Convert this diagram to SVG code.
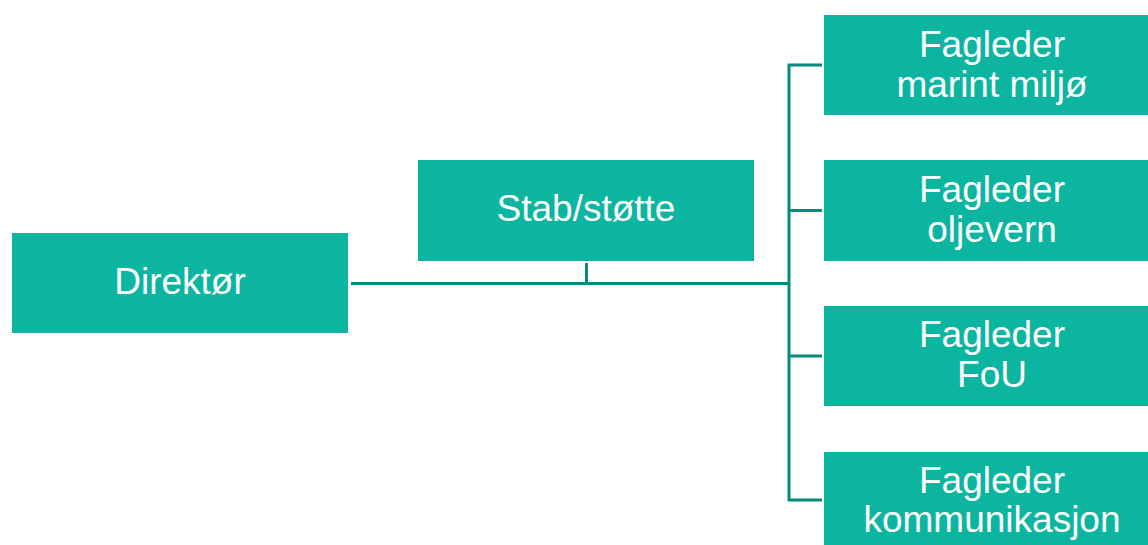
<svg xmlns="http://www.w3.org/2000/svg" width="1148" height="545" viewBox="0 0 1148 545">
<style>
.box{fill:#0BB5A0;}
.lbl{font-family:"Liberation Sans",Arial,sans-serif;font-size:37px;fill:#FFFFFF;text-anchor:middle;}
.conn{stroke:#078A7B;stroke-width:3;fill:none;}
</style>
<rect width="1148" height="545" fill="#FFFFFF"/>
<g id="connectors">
<path class="conn" d="M351 283.5 H789"/>
<path class="conn" d="M586.5 263 V283.5"/>
<path class="conn" d="M822 65 H789 V500 H822"/>
<path class="conn" d="M789 210.5 H822"/>
<path class="conn" d="M789 356 H822"/>
</g>
<g id="direktor">
<rect class="box" x="12" y="233" width="336" height="100"/>
<text class="lbl" x="180" y="294">Direktør</text>
</g>
<g id="stab">
<rect class="box" x="418" y="160" width="336" height="101"/>
<text class="lbl" x="586" y="221">Stab/støtte</text>
</g>
<g id="marint">
<rect class="box" x="824" y="15" width="336" height="100"/>
<text class="lbl" x="992" y="57">Fagleder</text>
<text class="lbl" x="992" y="97">marint miljø</text>
</g>
<g id="oljevern">
<rect class="box" x="824" y="160" width="336" height="101"/>
<text class="lbl" x="992" y="202">Fagleder</text>
<text class="lbl" x="992" y="242">oljevern</text>
</g>
<g id="fou">
<rect class="box" x="824" y="306" width="336" height="100"/>
<text class="lbl" x="992" y="347">Fagleder</text>
<text class="lbl" x="992" y="387">FoU</text>
</g>
<g id="kommunikasjon">
<rect class="box" x="824" y="452" width="336" height="100"/>
<text class="lbl" x="992" y="493">Fagleder</text>
<text class="lbl" x="992" y="532">kommunikasjon</text>
</g>
</svg>
